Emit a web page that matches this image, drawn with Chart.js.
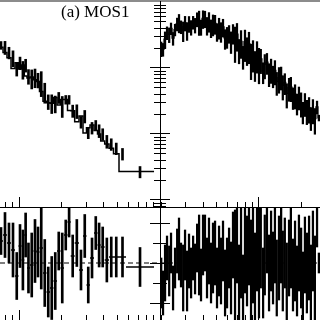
<!DOCTYPE html>
<html>
<head>
<meta charset="utf-8">
<script src="https://cdn.jsdelivr.net/npm/chart.js@4.4.0/dist/chart.umd.min.js"></script>
<style>
  html, body { margin: 0; padding: 0; background: #fff; overflow: hidden; }
  #wrap { position: relative; width: 320px; height: 320px; overflow: hidden; background: #fff; }
  #wrap canvas { position: absolute; }
  #label {
    position: absolute; left: 61px; top: 3px;
    font: 17px "Liberation Serif", "DejaVu Serif", serif; line-height: 17px;
    color: #000; white-space: nowrap;
  }
</style>
</head>
<body>
<div id="wrap">
  <canvas id="specA" width="165" height="213" style="left:0;top:0"></canvas>
  <canvas id="specB" width="165" height="213" style="left:155px;top:0"></canvas>
  <canvas id="resA" width="165" height="126" style="left:0;top:202px"></canvas>
  <canvas id="resB" width="165" height="126" style="left:155px;top:202px"></canvas>
  <div id="label">(a) MOS1</div>
</div>
<script>
// panel (a) MOS1: bin edges (keV), rate, fractional error, residual (data-model)/model
const edgesA = [0.718, 0.767, 0.818, 0.874, 0.933, 0.988, 1.038, 1.086, 1.135, 1.192, 1.263, 1.326,
  1.393, 1.475, 1.562, 1.654, 1.751, 1.855, 1.964, 2.08, 2.202, 2.321, 2.477, 2.657, 2.838, 3.005,
  3.183, 3.398, 3.598, 3.791, 4.047, 4.342, 4.674, 5.114, 5.734, 9.07];
const rateA = [0.2216, 0.2066, 0.1717, 0.1432, 0.0986, 0.1203, 0.0966, 0.1110, 0.0756, 0.0708,
  0.0733, 0.0665, 0.0624, 0.0440, 0.0313, 0.0298, 0.0292, 0.0358, 0.0274, 0.0333, 0.0333, 0.0226,
  0.0224, 0.0153, 0.0187, 0.01036, 0.01246, 0.01374, 0.0113, 0.0100, 0.0078, 0.00705, 0.00607,
  0.00503, 0.00269];
const errA = [0.135, 0.225, 0.20, 0.27, 0.235, 0.215, 0.30, 0.22, 0.25, 0.32, 0.315, 0.25, 0.41,
  0.335, 0.25, 0.315, 0.285, 0.19, 0.35, 0.15, 0.15, 0.21, 0.235, 0.20, 0.215, 0.18, 0.20, 0.165,
  0.22, 0.20, 0.22, 0.20, 0.20, 0.20, 0.195];
const residA = [0.22, 0.28, 0.20, 0.13, -0.13, 0.17, 0.03, 0.28, -0.05, -0.02, 0.12, 0.11, 0.15,
  -0.10, -0.29, -0.25, -0.18, 0.12, -0.05, 0.28, 0.41, 0.07, 0.20, -0.07, 0.27, -0.22, 0.05, 0.30,
  0.18, 0.16, 0.03, 0.06, 0.06, 0.06, -0.04];

// right panel: bin energies (keV), rate, fractional error, residual
const energyB = [0.200, 0.206, 0.213, 0.220, 0.228, 0.235, 0.243, 0.251, 0.260, 0.268,
  0.277, 0.287, 0.296, 0.306, 0.316, 0.327, 0.338, 0.349, 0.361, 0.373,
  0.385, 0.398, 0.411, 0.425, 0.439, 0.454, 0.469, 0.485, 0.501, 0.518,
  0.535, 0.553, 0.572, 0.591, 0.611, 0.631, 0.652, 0.674, 0.696, 0.720,
  0.744, 0.769, 0.794, 0.821, 0.848, 0.877, 0.906, 0.936, 0.968, 1.00,
  1.03, 1.07, 1.10, 1.14, 1.18, 1.22, 1.26, 1.30, 1.34, 1.39,
  1.44, 1.48, 1.53, 1.58, 1.64, 1.69, 1.75, 1.81, 1.87, 1.93,
  2.00, 2.06, 2.13, 2.20, 2.28, 2.35, 2.43, 2.51, 2.60, 2.68];
const rateB = [0.198, 0.193, 0.275, 0.344, 0.323, 0.400, 0.283, 0.383, 0.467, 0.494,
  0.424, 0.374, 0.484, 0.374, 0.474, 0.418, 0.496, 0.451, 0.553, 0.519,
  0.422, 0.566, 0.566, 0.448, 0.519, 0.411, 0.471, 0.476, 0.361, 0.420,
  0.365, 0.421, 0.286, 0.305, 0.338, 0.259, 0.342, 0.269, 0.326, 0.193,
  0.254, 0.154, 0.250, 0.198, 0.232, 0.148, 0.173, 0.120, 0.167, 0.128,
  0.137, 0.0888, 0.114, 0.123, 0.0840, 0.0973, 0.0783, 0.0923, 0.0620, 0.0715,
  0.0748, 0.0545, 0.0607, 0.0412, 0.0505, 0.0515, 0.0367, 0.0398, 0.0298, 0.0373,
  0.0300, 0.0222, 0.0297, 0.0231, 0.0251, 0.0182, 0.0237, 0.0171, 0.0258, 0.0175];
const errB = [0.25, 0.22, 0.28, 0.22, 0.25, 0.20, 0.22, 0.20, 0.22, 0.31,
  0.22, 0.33, 0.25, 0.30, 0.27, 0.25, 0.22, 0.25, 0.24, 0.40,
  0.26, 0.30, 0.28, 0.30, 0.33, 0.30, 0.35, 0.32, 0.30, 0.35,
  0.33, 0.30, 0.33, 0.35, 0.30, 0.36, 0.33, 0.55, 0.45, 0.40,
  0.45, 0.38, 0.50, 0.45, 0.50, 0.55, 0.50, 0.48, 0.50, 0.55,
  0.40, 0.35, 0.40, 0.35, 0.38, 0.40, 0.36, 0.40, 0.38, 0.42,
  0.38, 0.40, 0.35, 0.40, 0.38, 0.40, 0.36, 0.40, 0.35, 0.38,
  0.40, 0.36, 0.38, 0.40, 0.42, 0.38, 0.40, 0.42, 0.22, 0.10];
const residB = [-0.20, -0.30, -0.10, 0.05, -0.08, 0.10, -0.25, -0.05, 0.12, 0.14,
  -0.02, -0.15, 0.08, -0.18, 0.02, -0.10, 0.05, -0.06, 0.15, 0.08,
  -0.12, 0.18, 0.20, -0.05, 0.12, -0.10, 0.05, 0.10, -0.15, 0.02,
  -0.08, 0.12, -0.20, -0.10, 0.05, -0.15, 0.18, -0.02, 0.25, -0.22,
  0.10, -0.30, 0.20, 0.02, 0.28, -0.12, 0.10, -0.18, 0.22, 0.00,
  0.15, -0.20, 0.08, 0.25, -0.10, 0.12, -0.05, 0.20, -0.15, 0.05,
  0.18, -0.08, 0.10, -0.20, 0.05, 0.15, -0.12, 0.02, -0.18, 0.10,
  -0.05, -0.25, 0.08, -0.10, 0.05, -0.20, 0.12, -0.15, 0.38, 0.00];

// axis ranges and tick marks
const energyRangeA = [0.73, 10];
const energyRangeB = [0.196, 2.73];
const rateRange = [7.83e-4, 1.035];
const residRange = [-0.58, 0.56];
const minorTicksA = [0.8, 0.9, 2, 3, 4, 5, 6, 7, 8, 9];
const majorTicksA = [1, 10];
const minorTicksB = [0.2, 0.3, 0.4, 0.5, 0.6, 0.7, 0.8, 0.9, 2];
const majorTicksB = [1];
const minorRate = [0.0008, 0.0009, 0.002, 0.003, 0.004, 0.005, 0.006, 0.007, 0.008, 0.009,
  0.02, 0.03, 0.04, 0.05, 0.06, 0.07, 0.08, 0.09, 0.2, 0.3, 0.4, 0.5, 0.6, 0.7, 0.8, 0.9];
const majorRate = [0.001, 0.01, 0.1, 1];
const minorResid = [-0.2, 0.2];
const majorResid = [-0.4, 0, 0.4];

Chart.defaults.animation = false;
Chart.defaults.responsive = false;
Chart.defaults.events = [];
Chart.defaults.plugins.legend.display = false;
Chart.defaults.plugins.tooltip.enabled = false;

const blackBorder = { display: true, color: '#000', width: 1 };
const grayBorder = { display: true, color: '#8c8c8c', width: 2 };

// an axis that takes no room and draws its tick marks inwards
function axis(type, position, range, ticks, tickLen, border) {
  return {
    type: type,
    position: position,
    min: range[0],
    max: range[1],
    bounds: 'data',
    offset: false,
    ticks: { display: false },
    afterBuildTicks: scale => { scale.ticks = ticks.map(v => ({ value: v })); },
    afterFit: scale => {
      if (scale.isHorizontal()) scale.height = 0; else scale.width = 0;
    },
    grid: {
      display: tickLen > 0, drawOnChartArea: false, drawTicks: tickLen > 0,
      tickLength: -tickLen, color: '#000', lineWidth: 1, offset: false
    },
    border: border || blackBorder
  };
}

function errorBars(xs, ys, errs, relative) {
  return ys.map((v, i) => ({
    x: xs[i],
    y: relative ? [v * (1 - errs[i]), v * (1 + errs[i])] : [v - errs[i], v + errs[i]]
  }));
}

function zeroLine(range) {
  return {
    type: 'line', data: [{ x: range[0], y: 0 }, { x: range[1], y: 0 }],
    borderColor: '#000', borderWidth: 1.2, borderDash: [5, 3], pointRadius: 0, clip: 0
  };
}

const centersA = rateA.map((v, i) => Math.sqrt(edgesA[i] * edgesA[i + 1]));

// histogram line of panel (a)
const stepA = rateA.map((v, i) => ({ x: edgesA[i], y: v }));
stepA.push({ x: edgesA[edgesA.length - 1], y: rateA[rateA.length - 1] });

// horizontal error bars of the residuals in panel (a)
const hbarA = [];
residA.forEach((r, i) => {
  hbarA.push({ x: edgesA[i], y: r }, { x: edgesA[i + 1], y: r }, { x: edgesA[i + 1], y: null });
});

// top left: spectrum
new Chart(document.getElementById('specA'), {
  type: 'line',
  data: {
    datasets: [
      { type: 'bar', data: errorBars(centersA, rateA, errA, true), backgroundColor: '#000', barThickness: 2, clip: 0 },
      { type: 'line', data: stepA, stepped: 'after', borderColor: '#000', borderWidth: 1.5, pointRadius: 0, clip: 0 }
    ]
  },
  options: {
    layout: { padding: { left: 0, top: 1, right: 5, bottom: 6 } },
    scales: {
      x: axis('logarithmic', 'bottom', energyRangeA, minorTicksA, 5),
      xMajor: axis('logarithmic', 'bottom', energyRangeA, majorTicksA, 10),
      xTop: axis('logarithmic', 'top', energyRangeA, [], 0, grayBorder),
      y: axis('logarithmic', 'right', rateRange, minorRate, 6),
      yMajor: axis('logarithmic', 'right', rateRange, majorRate, 10)
    }
  }
});

// top right: spectrum
new Chart(document.getElementById('specB'), {
  type: 'line',
  data: {
    datasets: [
      { type: 'bar', data: errorBars(energyB, rateB, errB, true), backgroundColor: '#000', barThickness: 1.6, clip: 0 },
      { type: 'line', data: energyB.map((e, i) => ({ x: e, y: rateB[i] })), stepped: 'middle',
        borderColor: '#000', borderWidth: 1.2, pointRadius: 0, clip: 0 }
    ]
  },
  options: {
    layout: { padding: { left: 5, top: 1, right: 0, bottom: 6 } },
    scales: {
      x: axis('logarithmic', 'bottom', energyRangeB, minorTicksB, 5),
      xMajor: axis('logarithmic', 'bottom', energyRangeB, majorTicksB, 10),
      xTop: axis('logarithmic', 'top', energyRangeB, [], 0, grayBorder),
      y: axis('logarithmic', 'left', rateRange, minorRate, 6),
      yMajor: axis('logarithmic', 'left', rateRange, majorRate, 10)
    }
  }
});

// bottom left: residuals
new Chart(document.getElementById('resA'), {
  type: 'line',
  data: {
    datasets: [
      { type: 'bar', data: errorBars(centersA, residA, errA, false), backgroundColor: '#000', barThickness: 2, clip: 0 },
      { type: 'line', data: hbarA, borderColor: '#000', borderWidth: 1.5, pointRadius: 0, spanGaps: false, clip: 0 },
      zeroLine(energyRangeA)
    ]
  },
  options: {
    layout: { padding: { left: 0, top: 5, right: 5, bottom: 7 } },
    scales: {
      x: axis('logarithmic', 'bottom', energyRangeA, minorTicksA, 6),
      xMajor: axis('logarithmic', 'bottom', energyRangeA, majorTicksA, 11),
      xTop: axis('logarithmic', 'top', energyRangeA, [], 0),
      y: axis('linear', 'right', residRange, minorResid, 7),
      yMajor: axis('linear', 'right', residRange, majorResid, 10)
    }
  }
});

// bottom right: residuals
new Chart(document.getElementById('resB'), {
  type: 'line',
  data: {
    datasets: [
      { type: 'bar', data: errorBars(energyB, residB, errB, false), backgroundColor: '#000', barThickness: 1.6, clip: 0 },
      zeroLine(energyRangeB)
    ]
  },
  options: {
    layout: { padding: { left: 5, top: 5, right: 0, bottom: 7 } },
    scales: {
      x: axis('logarithmic', 'bottom', energyRangeB, minorTicksB, 6),
      xMajor: axis('logarithmic', 'bottom', energyRangeB, majorTicksB, 11),
      xTop: axis('logarithmic', 'top', energyRangeB, [], 0),
      y: axis('linear', 'left', residRange, minorResid, 7),
      yMajor: axis('linear', 'left', residRange, majorResid, 10)
    }
  }
});
</script>
</body>
</html>
